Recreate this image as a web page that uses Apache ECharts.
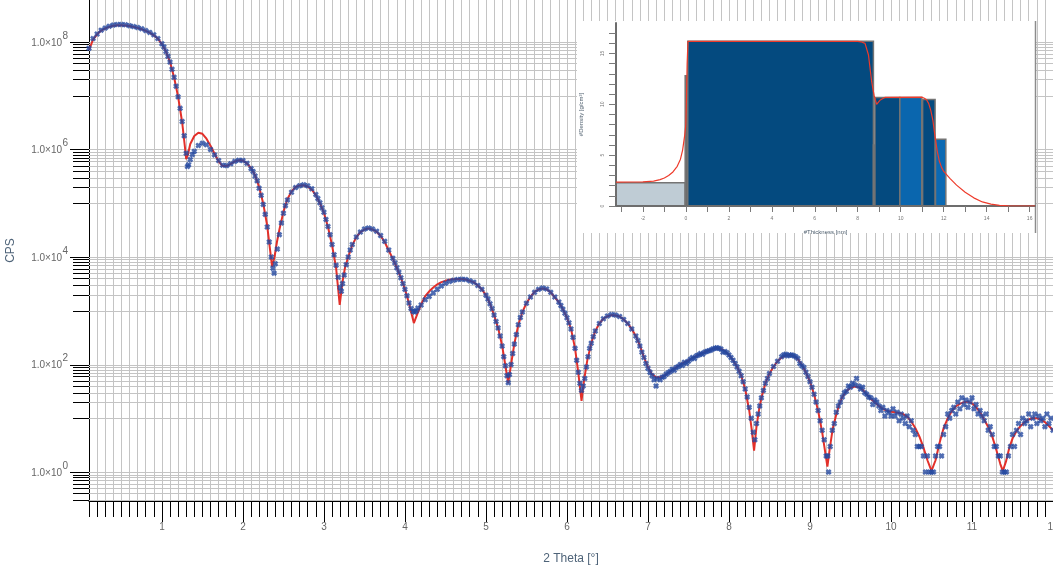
<!DOCTYPE html>
<html><head><meta charset="utf-8">
<script src="https://cdn.jsdelivr.net/npm/echarts@6/dist/echarts.min.js"></script>
<style>html,body{margin:0;padding:0;background:#fff}#c{width:1053px;height:572px}</style>
</head><body><div id="c"></div><script>
// ---------------- main chart data ----------------
const X_MIN = 0.1, X_MAX = 12;
const Y_MIN = 0.29, Y_MAX = 6.0e8;
const xMajorTicks = [1,2,3,4,5,6,7,8,9,10,11,12];
const yLabelValues = [1e8, 1e6, 1e4, 1e2, 1];
const yLabelExps = [8, 6, 4, 2, 0];
const yMinorTicks = [9e7,8e7,7e7,6e7,5e7,4e7,3e7,2e7,1e7,
  9e5,8e5,7e5,6e5,5e5,4e5,3e5,2e5,1e5,
  9e3,8e3,7e3,6e3,5e3,4e3,3e3,2e3,1e3,
  90,80,70,60,50,40,30,20,10,
  0.9,0.8,0.7,0.6,0.5,0.4,0.3];

// fitted curve [2theta, CPS]
const fitCurve = [
[0.10,7.1e7],[0.15,1.1e8],[0.20,1.38e8],[0.25,1.62e8],[0.30,1.78e8],[0.35,1.9e8],[0.40,2.0e8],[0.45,2.04e8],[0.50,2.04e8],[0.55,2.02e8],
[0.60,1.97e8],[0.65,1.9e8],[0.70,1.82e8],[0.75,1.72e8],[0.80,1.6e8],[0.85,1.48e8],[0.90,1.32e8],[0.95,1.15e8],[1.00,9.1e7],[1.05,6.6e7],
[1.10,4.2e7],[1.15,2.2e7],[1.20,9.5e6],[1.25,3.2e6],[1.28,1.26e6],[1.30,6.6e5],[1.32,7.9e5],[1.35,1.26e6],[1.40,1.78e6],[1.45,2.04e6],
[1.50,1.95e6],[1.55,1.58e6],[1.60,1.17e6],[1.65,8.3e5],[1.70,6.0e5],[1.75,4.9e5],[1.80,4.9e5],[1.85,5.4e5],[1.90,6.0e5],[1.95,6.3e5],
[2.00,6.2e5],[2.05,5.5e5],[2.10,4.5e5],[2.15,3.3e5],[2.20,2.0e5],[2.25,1.0e5],[2.30,3.8e4],[2.33,1.58e4],[2.36,6.6e3],[2.39,1.0e4],
[2.42,1.9e4],[2.45,3.2e4],[2.50,6.9e4],[2.55,1.2e5],[2.60,1.66e5],[2.65,2.0e5],[2.70,2.14e5],[2.75,2.16e5],[2.80,2.04e5],[2.85,1.78e5],
[2.90,1.41e5],[2.95,1.0e5],[3.00,6.6e4],[3.05,3.6e4],[3.10,1.66e4],[3.15,6.3e3],[3.195,1.29e3],[3.23,3.5e3],[3.26,6.3e3],[3.30,1.0e4],
[3.35,1.66e4],[3.40,2.34e4],[3.45,2.9e4],[3.50,3.24e4],[3.55,3.4e4],[3.60,3.24e4],[3.65,2.95e4],[3.70,2.45e4],[3.75,1.9e4],[3.80,1.32e4],
[3.85,9.3e3],[3.90,6.3e3],[3.95,4.1e3],[4.00,2.5e3],[4.05,1.38e3],[4.11,5.9e2],[4.15,8.5e2],[4.20,1.32e3],[4.25,1.86e3],[4.30,2.3e3],
[4.35,2.7e3],[4.40,3.1e3],[4.45,3.4e3],[4.50,3.6e3],[4.55,3.76e3],[4.60,3.85e3],[4.65,3.9e3],[4.70,3.9e3],[4.75,3.8e3],[4.80,3.6e3],
[4.85,3.4e3],[4.90,2.95e3],[4.95,2.5e3],[5.00,1.95e3],[5.05,1.35e3],[5.10,8.3e2],[5.15,4.8e2],[5.20,2.24e2],[5.24,95],[5.275,45],
[5.31,100],[5.35,2.4e2],[5.40,5.5e2],[5.45,9.5e2],[5.50,1.38e3],[5.55,1.82e3],[5.60,2.24e3],[5.65,2.5e3],[5.70,2.6e3],[5.75,2.5e3],
[5.80,2.2e3],[5.85,1.78e3],[5.90,1.45e3],[5.95,1.07e3],[6.00,7.4e2],[6.05,4.6e2],[6.10,2.0e2],[6.14,71],[6.18,21],[6.21,50],
[6.25,117],[6.30,2.5e2],[6.35,4.2e2],[6.40,5.8e2],[6.45,7.1e2],[6.50,7.9e2],[6.55,8.3e2],[6.60,8.2e2],[6.65,7.8e2],[6.70,6.9e2],
[6.75,5.8e2],[6.80,4.6e2],[6.85,3.4e2],[6.90,2.24e2],[6.95,138],[7.00,89],[7.05,66],[7.10,58],[7.15,58],[7.20,62],
[7.25,69],[7.30,79],[7.35,89],[7.40,100],[7.45,110],[7.50,120],[7.55,132],[7.60,145],[7.65,158],[7.70,170],
[7.75,182],[7.80,195],[7.85,200],[7.90,195],[7.95,178],[8.00,151],[8.05,120],[8.10,91],[8.15,63],[8.20,35],
[8.25,14],[8.28,6.3],[8.31,2.5],[8.34,7.1],[8.37,14],[8.40,24],[8.45,45],[8.50,68],[8.55,91],[8.60,115],
[8.65,135],[8.70,148],[8.75,151],[8.80,145],[8.85,126],[8.90,98],[8.95,71],[9.00,48],[9.05,28],[9.10,14],
[9.15,5.6],[9.185,2.5],[9.215,1.26],[9.245,2.8],[9.28,6.3],[9.32,11],[9.36,18],[9.40,25],[9.45,32],[9.50,37],
[9.55,39],[9.60,38],[9.65,34],[9.70,28],[9.75,23],[9.80,20],[9.85,17],[9.90,15],[9.95,13.8],[10.00,13.2],
[10.05,12.9],[10.10,12.6],[10.15,12],[10.20,10.7],[10.25,8.7],[10.30,6.6],[10.35,4.6],[10.40,2.9],[10.45,1.66],[10.50,1.05],
[10.55,1.66],[10.60,3.5],[10.65,6.6],[10.70,10],[10.75,13.5],[10.80,16.6],[10.85,18.6],[10.90,20],[10.95,20.4],[11.00,19],
[11.05,16.2],[11.10,12.9],[11.15,9.5],[11.20,6.9],[11.25,4.6],[11.30,2.6],[11.35,1.41],[11.38,1.05],[11.42,1.58],[11.46,2.8],
[11.50,4.2],[11.55,5.8],[11.60,7.2],[11.65,8.5],[11.70,9.5],[11.75,10],[11.80,10],[11.85,9.5],[11.90,8.5],[11.95,7.2],[12.00,6.0]
];

// measured points [2theta, CPS]
const measured = [
[0.10,7.6e7],[0.15,1.15e8],[0.20,1.4e8],[0.25,1.65e8],[0.30,1.8e8],[0.35,1.95e8],[0.40,2.05e8],[0.45,2.1e8],[0.50,2.1e8],[0.55,2.08e8],
[0.60,2.0e8],[0.65,1.92e8],[0.70,1.85e8],[0.75,1.75e8],[0.80,1.62e8],[0.85,1.5e8],[0.90,1.35e8],[0.95,1.15e8],[1.00,9.2e7],[1.025,8.0e7],
[1.05,6.6e7],[1.075,5.4e7],[1.10,4.2e7],[1.125,3.1e7],[1.15,2.2e7],[1.175,1.5e7],[1.20,9.5e6],[1.225,5.8e6],[1.25,3.3e6],[1.275,1.8e6],
[1.30,8.5e5],[1.315,4.8e5],[1.33,5.2e5],[1.35,6.5e5],[1.375,8.0e5],[1.40,9.2e5],[1.45,1.18e6],[1.50,1.3e6],[1.55,1.22e6],[1.60,1.0e6],
[1.65,7.9e5],[1.70,6.2e5],[1.75,5.1e5],[1.80,5.0e5],[1.85,5.4e5],[1.90,6.0e5],[1.95,6.3e5],[2.00,6.2e5],[2.05,5.5e5],[2.10,4.4e5],
[2.125,3.9e5],[2.15,3.2e5],[2.175,2.6e5],[2.20,1.9e5],[2.225,1.4e5],[2.25,9.5e4],[2.275,6.2e4],[2.30,3.6e4],[2.325,1.9e4],[2.35,1.0e4],
[2.37,6.2e3],[2.385,5.0e3],[2.40,7.5e3],[2.425,1.4e4],[2.45,2.6e4],[2.475,4.3e4],[2.50,6.5e4],[2.525,9.0e4],[2.55,1.15e5],[2.60,1.6e5],
[2.65,1.95e5],[2.70,2.12e5],[2.75,2.2e5],[2.80,2.1e5],[2.85,1.85e5],[2.90,1.45e5],[2.925,1.22e5],[2.95,1.02e5],[2.975,8.2e4],[3.00,6.8e4],
[3.025,5.0e4],[3.05,3.7e4],[3.075,2.6e4],[3.10,1.7e4],[3.125,1.1e4],[3.15,7.0e3],[3.175,4.2e3],[3.20,2.7e3],[3.215,2.3e3],[3.23,3.2e3],
[3.25,4.6e3],[3.275,7.2e3],[3.30,1.0e4],[3.325,1.35e4],[3.35,1.7e4],[3.40,2.35e4],[3.45,2.9e4],[3.50,3.3e4],[3.55,3.45e4],[3.60,3.3e4],
[3.65,3.0e4],[3.70,2.5e4],[3.75,1.95e4],[3.80,1.35e4],[3.85,9.5e3],[3.875,7.8e3],[3.90,6.3e3],[3.925,5.2e3],[3.95,4.1e3],[3.975,3.2e3],
[4.00,2.5e3],[4.025,1.9e3],[4.05,1.4e3],[4.075,1.1e3],[4.10,9.8e2],[4.12,9.5e2],[4.14,1.0e3],[4.16,1.12e3],[4.20,1.28e3],[4.25,1.6e3],
[4.30,1.85e3],[4.35,2.15e3],[4.40,2.5e3],[4.45,2.9e3],[4.50,3.25e3],[4.55,3.5e3],[4.60,3.7e3],[4.65,3.8e3],[4.70,3.85e3],[4.75,3.8e3],
[4.80,3.6e3],[4.85,3.4e3],[4.90,2.95e3],[4.95,2.5e3],[5.00,1.95e3],[5.025,1.65e3],[5.05,1.35e3],[5.075,1.1e3],[5.10,8.3e2],[5.125,6.3e2],
[5.15,4.8e2],[5.175,3.4e2],[5.20,2.2e2],[5.22,1.4e2],[5.24,95],[5.26,62],[5.275,46],[5.29,65],[5.31,100],[5.33,160],
[5.35,2.4e2],[5.375,3.6e2],[5.40,5.5e2],[5.425,7.5e2],[5.45,9.5e2],[5.50,1.38e3],[5.55,1.8e3],[5.60,2.2e3],[5.65,2.5e3],[5.70,2.65e3],
[5.75,2.55e3],[5.80,2.2e3],[5.85,1.8e3],[5.90,1.45e3],[5.925,1.25e3],[5.95,1.07e3],[5.975,9.0e2],[6.00,7.4e2],[6.025,6.0e2],[6.05,4.6e2],
[6.075,3.2e2],[6.10,2.0e2],[6.12,120],[6.14,72],[6.16,45],[6.18,33],[6.20,40],[6.22,55],[6.24,90],[6.26,140],
[6.28,200],[6.30,250],[6.325,330],[6.35,420],[6.40,580],[6.45,710],[6.50,800],[6.55,850],[6.60,830],[6.65,780],
[6.70,690],[6.75,580],[6.80,460],[6.85,340],[6.875,280],[6.90,220],[6.925,170],[6.95,135],[6.975,105],[7.00,85],
[7.025,72],[7.05,62],[7.075,52],[7.10,40],[7.11,55],[7.15,52],[7.175,58],[7.20,60],[7.225,66],[7.25,70],
[7.275,74],[7.30,82],[7.325,78],[7.35,88],[7.375,92],[7.40,100],[7.425,96],[7.45,110],[7.475,105],[7.50,115],
[7.525,125],[7.55,135],[7.575,130],[7.60,145],[7.625,150],[7.65,160],[7.675,155],[7.70,170],[7.725,175],[7.75,180],
[7.775,185],[7.80,195],[7.825,200],[7.85,205],[7.875,200],[7.90,195],[7.925,170],[7.95,175],[7.975,165],[8.00,150],
[8.025,135],[8.05,120],[8.075,105],[8.10,90],[8.125,75],[8.15,62],[8.175,48],[8.20,35],[8.225,25],[8.25,16],
[8.275,10],[8.30,5.5],[8.32,4.0],[8.34,8],[8.36,12],[8.38,17],[8.40,24],[8.425,33],[8.45,45],[8.475,55],
[8.50,68],[8.55,92],[8.60,115],[8.65,140],[8.675,150],[8.70,155],[8.725,145],[8.75,150],[8.775,150],[8.80,145],
[8.825,140],[8.85,130],[8.875,105],[8.90,95],[8.925,88],[8.95,72],[8.975,60],[9.00,48],[9.025,38],[9.05,28],
[9.075,20],[9.10,14],[9.125,9],[9.15,6],[9.175,4],[9.20,2],[9.22,2],[9.23,1],[9.25,3],[9.275,6],
[9.30,8],[9.325,13],[9.35,17],[9.375,20],[9.40,25],[9.425,30],[9.45,32],[9.475,40],[9.50,38],[9.525,45],
[9.55,42],[9.575,55],[9.60,40],[9.625,35],[9.65,38],[9.675,30],[9.70,28],[9.725,25],[9.75,24],[9.775,18],
[9.80,22],[9.825,20],[9.85,17],[9.875,14],[9.90,16],[9.925,11],[9.95,14],[9.975,13],[10.00,11],[10.025,15],
[10.05,11],[10.075,13],[10.10,9],[10.125,12],[10.15,10],[10.175,8],[10.20,11],[10.225,7],[10.25,9],[10.275,6],
[10.30,5],[10.325,3],[10.35,3],[10.375,3],[10.40,2],[10.425,1],[10.45,2],[10.475,1],[10.50,1],[10.525,1],
[10.55,2],[10.575,3],[10.60,3],[10.625,2],[10.65,5],[10.675,7],[10.70,12],[10.725,10],[10.75,14],[10.775,16],
[10.80,12],[10.825,20],[10.85,15],[10.875,24],[10.90,18],[10.925,22],[10.95,16],[10.975,20],[11.00,24],[11.025,15],
[11.05,18],[11.075,12],[11.10,14],[11.125,11],[11.15,9],[11.175,12],[11.20,6],[11.225,7],[11.25,5],[11.275,3],
[11.30,3],[11.325,2],[11.35,2],[11.375,1],[11.40,1],[11.425,1],[11.45,2],[11.475,3],[11.50,5],[11.525,3],
[11.55,6],[11.575,8],[11.60,5],[11.625,10],[11.65,8],[11.675,9],[11.70,12],[11.725,7],[11.75,10],[11.775,12],
[11.80,8],[11.825,11],[11.85,9],[11.875,10],[11.90,7],[11.925,12],[11.95,8],[11.975,10],[12.00,6]
];

// ---------------- inset (layer density profile) ----------------
const INSET_X_MIN = -3.25, INSET_X_MAX = 16.25;
const insetXTicks = [-3,-2,-1,0,1,2,3,4,5,6,7,8,9,10,11,12,13,14,15,16];
const insetXLabels = [-2,0,2,4,6,8,10,12,14,16];
const insetYTicks = [0,1,2,3,4,5,6,7,8,9,10,11,12,13,14,15,16,17];
const insetYLabels = [0,5,10,15];
const layerStart   = [-3.25, -0.03, 0.09, 8.73, 8.80, 9.96, 11.02, 11.62];
const layerEnd     = [-0.03, 0.09, 8.73, 8.80, 9.96, 10.98, 11.60, 12.10];
const layerDensity = [2.28, 12.8, 16.2, 6.0, 10.68, 10.68, 10.48, 6.57];
const layerColors  = ['#bfccd5', '#6c6c6c', '#044a7f', '#6c6c6c', '#044a7f', '#0a66ae', '#044a7f', '#0b69b3'];
const densityProfile = [
[-3.25,2.35],[-2.5,2.36],[-2.0,2.38],[-1.5,2.45],[-1.2,2.6],[-1.0,2.75],[-0.8,3.0],[-0.6,3.35],[-0.4,3.9],[-0.25,4.6],
[-0.15,5.5],[-0.05,7.0],[0.0,8.0],[0.03,10.5],[0.06,14.0],[0.1,16.2],[8.0,16.2],[8.15,16.15],[8.34,16.0],[8.5,14.85],
[8.65,12.2],[8.76,10.9],[8.88,10.0],[9.03,10.4],[9.26,10.68],[11.0,10.7],[11.1,10.6],[11.2,10.45],[11.3,10.1],[11.4,9.4],
[11.5,8.4],[11.6,6.8],[11.7,5.4],[11.8,4.4],[11.9,3.8],[12.0,3.4],[12.3,2.7],[12.6,2.05],[13.0,1.35],[13.4,0.8],
[13.8,0.4],[14.2,0.18],[14.6,0.07],[15.0,0.02],[15.5,0.0],[16.25,0.0]
];

// ---------------- build ----------------
const FONT = "'Liberation Sans', Arial, sans-serif";
const yTickData = yMinorTicks.map(v => [X_MIN, v, 0]).concat(yLabelValues.map(v => [X_MIN, v, 1]));
const yLabelData = yLabelValues.map((v, i) => [X_MIN, v, yLabelExps[i]]);
const layerData = layerStart.map((s, i) => [s, layerEnd[i], layerDensity[i]]);

const chart = echarts.init(document.getElementById('c'), null, {renderer: 'canvas'});
chart.setOption({
  animation: false,
  backgroundColor: '#ffffff',
  grid: [
    {left: 89, top: 0, right: 0, bottom: 71, containLabel: false, outerBoundsMode: 'none'},
    {left: 616, top: 23, width: 419, height: 183, containLabel: false, outerBoundsMode: 'none'}
  ],
  graphic: [
    {type: 'rect', shape: {x: 577, y: 21, width: 459, height: 212}, style: {fill: '#ffffff'}, z: 5, silent: true},
    {type: 'line', shape: {x1: 1035.5, y1: 21, x2: 1035.5, y2: 233}, style: {stroke: '#8c8c8c', lineWidth: 1.5}, z: 6, silent: true}
  ],
  xAxis: [
    { type: 'value', gridIndex: 0, min: X_MIN, max: X_MAX, interval: 0.1, position: 'bottom',
      axisLine: {show: true, onZero: false, lineStyle: {color: '#000', width: 1}},
      axisTick: {show: true, length: 16, lineStyle: {color: '#000', width: 1}},
      axisLabel: {show: false},
      splitLine: {show: true, lineStyle: {color: '#c4c4c4', width: 1}} },
    { type: 'value', gridIndex: 0, min: X_MIN, max: X_MAX, position: 'bottom',
      name: '2 Theta [°]', nameLocation: 'middle', nameGap: 52,
      nameTextStyle: {color: '#4e6378', fontSize: 12, fontFamily: FONT},
      axisLine: {show: false, onZero: false},
      axisTick: {show: true, length: 21, customValues: xMajorTicks, lineStyle: {color: '#000', width: 1}},
      axisLabel: {show: true, customValues: xMajorTicks, margin: 21, color: '#666', fontSize: 10, fontFamily: FONT},
      splitLine: {show: false} },
    { type: 'value', gridIndex: 1, min: INSET_X_MIN, max: INSET_X_MAX, position: 'bottom', z: 10,
      name: '#Thickness [nm]', nameLocation: 'middle', nameGap: 23,
      nameTextStyle: {color: '#50606f', fontSize: 6, fontFamily: FONT},
      axisLine: {show: true, onZero: false, lineStyle: {color: '#6d6d6d', width: 2}},
      axisTick: {show: true, length: 6, customValues: insetXTicks, lineStyle: {color: '#7a7a7a', width: 1}},
      axisLabel: {show: true, customValues: insetXLabels, margin: 10, color: '#777', fontSize: 5, fontFamily: FONT},
      splitLine: {show: false} }
  ],
  yAxis: [
    { type: 'log', gridIndex: 0, min: Y_MIN, max: Y_MAX,
      name: 'CPS', nameLocation: 'middle', nameGap: 72,
      nameTextStyle: {color: '#4e6378', fontSize: 12, fontFamily: FONT},
      axisLine: {show: true, onZero: false, lineStyle: {color: '#000', width: 1}},
      axisTick: {show: false}, axisLabel: {show: false}, splitLine: {show: false}, minorTick: {show: false} },
    { type: 'value', gridIndex: 1, min: 0, max: 18, z: 10, position: 'left',
      name: '#Density [g/cm³]', nameLocation: 'middle', nameGap: 32,
      nameTextStyle: {color: '#50606f', fontSize: 6, fontFamily: FONT},
      axisLine: {show: true, onZero: false, lineStyle: {color: '#6d6d6d', width: 2}},
      axisTick: {show: true, length: 7, customValues: insetYTicks, lineStyle: {color: '#7a7a7a', width: 1}},
      axisLabel: {show: true, customValues: insetYLabels, rotate: 90, margin: 11, color: '#777', fontSize: 5, fontFamily: FONT},
      splitLine: {show: false} }
  ],
  series: [
    { type: 'custom', name: 'yticks', xAxisIndex: 0, yAxisIndex: 0, z: 1, silent: true, clip: false,
      data: yTickData,
      renderItem: function (params, api) {
        const cs = params.coordSys;
        const y = Math.round(api.coord([api.value(0), api.value(1)])[1]) + 0.5;
        const len = api.value(2) === 1 ? 19 : 16;
        return {type: 'group', children: [
          {type: 'line', shape: {x1: cs.x, y1: y, x2: cs.x + cs.width, y2: y}, style: {stroke: '#c4c4c4', lineWidth: 1}},
          {type: 'line', shape: {x1: cs.x - len, y1: y, x2: cs.x, y2: y}, style: {stroke: '#000', lineWidth: 1}}
        ]};
      } },
    { type: 'custom', name: 'ylabels', xAxisIndex: 0, yAxisIndex: 0, z: 3, silent: true, clip: false,
      data: yLabelData,
      renderItem: function (params, api) {
        const cs = params.coordSys;
        const y = api.coord([api.value(0), api.value(1)])[1];
        return {type: 'group', children: [
          {type: 'text', x: cs.x - 27, y: y + 1, style: {text: '1.0\u00d710', align: 'right', verticalAlign: 'middle', font: '10px ' + FONT, fill: '#666'}},
          {type: 'text', x: cs.x - 26.5, y: y - 6, style: {text: String(api.value(2)), align: 'left', verticalAlign: 'middle', font: '10px ' + FONT, fill: '#666'}}
        ]};
      } },
    { type: 'line', name: 'fit', xAxisIndex: 0, yAxisIndex: 0, z: 2, data: fitCurve,
      showSymbol: false, symbol: 'none', lineStyle: {color: '#e3302a', width: 2} },
    { type: 'scatter', name: 'measured', xAxisIndex: 0, yAxisIndex: 0, z: 3, data: measured,
      symbol: 'path://M0,3L3,0L5,2L7,0L10,3L8,5L10,7L7,10L5,8L3,10L0,7L2,5Z', symbolSize: 6,
      itemStyle: {color: '#2449a0'} },
    { type: 'custom', name: 'layers', xAxisIndex: 2, yAxisIndex: 1, z: 10, silent: true, clip: false,
      data: layerData,
      renderItem: function (params, api) {
        const p0 = api.coord([api.value(0), api.value(2)]);
        const p1 = api.coord([api.value(1), 0]);
        return {type: 'rect', shape: {x: p0[0], y: p0[1], width: p1[0] - p0[0], height: p1[1] - p0[1]},
          style: {fill: layerColors[params.dataIndex], stroke: '#747474', lineWidth: 1.5}};
      } },
    { type: 'line', name: 'profile', xAxisIndex: 2, yAxisIndex: 1, z: 11, data: densityProfile,
      showSymbol: false, symbol: 'none', lineStyle: {color: '#ee3b2b', width: 1.2} }
  ]
});
</script></body></html>
